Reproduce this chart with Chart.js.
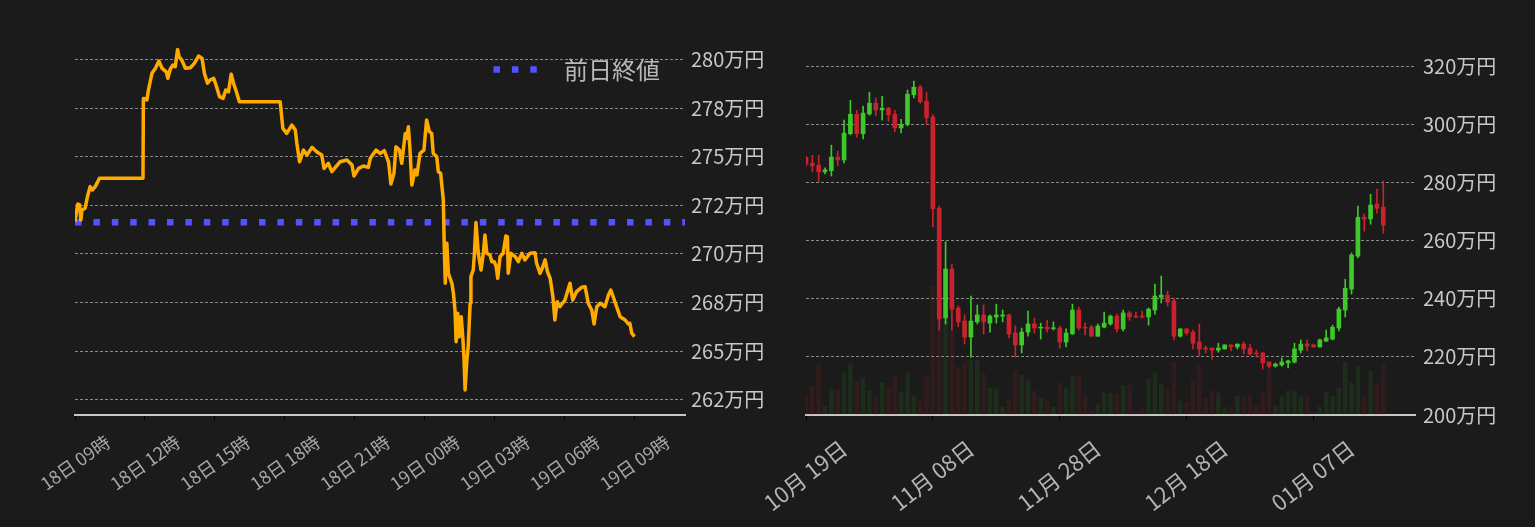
<!DOCTYPE html>
<html><head><meta charset="utf-8">
<script src="https://cdn.jsdelivr.net/npm/chart.js@4.4.1/dist/chart.umd.min.js"></script>
<style>
html,body{margin:0;padding:0;background:#1b1b1b;}
#wrap{position:relative;width:1535px;height:527px;overflow:hidden;}
canvas{position:absolute;top:0;}
#c1{left:0;}
#c2{left:740px;}
</style></head><body>
<div id="wrap"><canvas id="c1" width="770" height="527"></canvas><canvas id="c2" width="795" height="527"></canvas></div>
<script>
// ---------- intraday (left) ----------
const intradayMinutes = [0,7,12,15,18,26,32,39,45,52,63,175,176,185,189,198,207,216,224,235,239,245,252,258,264,268,275,284,297,307,318,327,333,341,348,357,363,372,381,388,395,402,408,414,423,528,535,545,558,567,571,578,588,597,610,622,635,641,652,661,682,700,713,718,730,742,755,760,775,785,796,807,813,821,826,835,841,850,854,858,862,867,875,880,888,898,905,912,918,922,931,935,941,948,950,953,957,961,970,974,978,981,985,989,994,998,1001,1004,1008,1012,1017,1019,1025,1028,1032,1038,1045,1051,1055,1060,1068,1073,1079,1084,1088,1094,1102,1109,1113,1115,1122,1133,1141,1150,1158,1171,1184,1188,1197,1204,1210,1216,1223,1230,1235,1241,1248,1261,1274,1281,1291,1304,1313,1321,1330,1336,1343,1352,1364,1373,1379,1385,1394,1403,1416,1424,1428,1433,1440];
const intradayPrices = [271.66,272.57,272.52,271.74,272.26,272.35,272.94,273.46,273.29,273.46,273.89,273.89,278.00,277.92,278.43,279.29,279.55,279.92,279.55,279.37,279.03,279.50,279.72,279.63,280.52,280.14,279.97,279.55,279.58,279.80,280.18,280.06,279.29,278.78,278.95,279.03,278.69,278.09,278.00,278.43,278.34,279.25,278.78,278.43,277.83,277.83,276.46,276.20,276.63,276.37,275.69,274.74,275.34,275.09,275.48,275.26,275.09,274.40,274.66,274.23,274.74,274.83,274.57,274.01,274.40,274.52,274.45,274.92,275.34,275.17,275.31,274.74,273.60,274.15,275.51,275.34,274.66,276.20,275.95,276.54,275.43,273.54,274.32,274.06,275.17,275.34,276.89,276.29,276.20,275.17,275.00,274.23,274.15,272.77,270.72,268.49,270.55,269.00,268.49,267.97,267.11,265.48,266.94,265.74,266.77,265.74,264.71,263.00,264.37,265.23,267.46,268.83,269.17,270.03,271.61,270.03,269.17,270.03,270.97,270.03,269.94,269.60,269.60,269.34,268.74,269.86,270.03,270.92,270.88,269.00,270.03,269.86,269.60,270.03,269.69,270.03,270.06,269.52,269.00,269.34,269.69,269.08,268.74,267.80,266.60,267.54,267.28,267.63,268.49,267.63,268.06,268.28,268.31,267.46,267.11,266.39,267.28,267.46,267.28,267.89,268.14,267.80,267.28,266.77,266.60,266.39,266.43,265.92,265.74];
const prevClose = 271.63;
const prevCloseLabel = '前日終値';
const intradayTickMinutes = [0,180,360,540,720,900,1080,1260,1440];
const intradayTickLabels = ['18日 09時','18日 12時','18日 15時','18日 18時','18日 21時','19日 00時','19日 03時','19日 06時','19日 09時'];
const intradayPriceTicks = [262.5,265,267.5,270,272.5,275,277.5,280];
const intradayPriceLabels = ['262万円','265万円','268万円','270万円','272万円','275万円','278万円','280万円'];

// ---------- daily candles (right) ----------
const dailyOpen = [288.6,286.6,285.9,283.6,284.0,288.7,287.7,296.7,303.4,296.7,303.5,307.2,304.9,305.5,303.4,298.7,299.9,310.1,312.7,307.9,302.4,271.1,233.4,250.2,236.8,232.3,226.8,232.0,234.4,231.6,233.7,234.0,234.4,228.2,224.1,228.5,231.3,229.9,230.2,229.7,229.9,225.1,227.9,236.1,230.2,230.2,227.1,230.2,231.3,234.0,229.6,235.1,234.0,234.0,233.7,236.1,240.5,241.2,239.2,227.1,229.6,228.5,225.1,223.0,223.0,222.3,222.7,224.1,223.4,224.4,223.0,221.3,221.3,218.2,216.8,217.2,217.9,218.2,222.3,224.4,224.1,223.4,225.4,226.1,229.9,236.1,243.3,254.6,268.0,267.4,272.5,271.5];
const dailyHigh = [289.0,289.3,289.3,285.0,292.8,290.7,301.4,308.2,304.8,306.2,311.0,309.0,309.6,305.8,304.8,301.7,311.7,314.8,313.4,311.0,303.3,271.8,259.6,251.9,237.5,234.4,240.9,237.8,237.8,234.4,238.1,236.1,234.7,230.6,229.9,235.7,233.3,231.6,232.6,232.0,230.6,229.6,238.1,237.1,231.6,230.9,231.3,235.4,234.4,234.7,236.1,235.7,235.4,235.7,236.8,245.0,247.8,242.6,240.2,229.7,229.7,229.2,231.3,223.7,223.1,224.7,224.1,224.1,224.4,225.1,224.4,222.3,221.6,218.2,217.9,219.6,218.9,224.7,225.8,225.8,224.4,226.1,229.2,230.9,237.1,246.7,255.7,271.8,269.1,275.9,277.7,280.4];
const dailyLow = [285.6,283.6,280.2,282.9,282.2,285.7,286.7,296.3,295.5,294.9,303.1,302.9,301.4,301.0,297.4,297.0,299.4,309.0,307.2,299.9,264.7,229.2,231.3,229.2,230.3,224.4,219.9,231.3,227.8,228.5,231.6,232.0,226.5,219.9,221.3,227.1,228.2,226.1,228.5,229.2,223.0,223.4,227.7,229.2,227.5,227.0,227.0,229.9,230.9,228.5,228.9,232.6,233.5,233.3,230.9,234.7,238.5,237.5,225.8,226.8,227.5,222.7,220.3,221.3,219.2,221.6,222.7,222.0,222.7,221.0,220.6,219.9,215.8,216.2,216.5,216.8,216.2,217.9,221.3,222.0,223.3,223.3,225.3,225.8,228.9,233.7,241.6,254.0,263.2,265.6,269.4,262.5];
const dailyClose = [286.3,285.7,283.6,284.3,288.7,287.7,296.9,303.4,296.7,303.8,307.2,304.9,305.5,303.2,298.7,299.9,310.3,312.7,307.7,302.2,270.9,233.0,250.2,236.4,232.0,226.8,232.3,234.4,232.0,234.0,234.4,234.4,227.8,224.1,228.5,231.3,229.9,230.2,229.6,230.0,225.1,228.2,236.1,229.9,229.9,227.1,230.6,231.6,234.0,229.6,235.1,233.7,233.7,233.7,236.4,240.9,241.2,238.8,227.1,229.6,228.2,224.7,222.7,222.7,222.3,223.0,224.1,223.4,224.4,222.7,221.0,221.0,217.9,216.8,217.5,218.2,218.6,222.7,224.4,223.7,223.4,225.8,226.5,230.2,236.4,243.6,255.0,268.0,267.4,272.2,271.1,265.3];
const dailyVolume = [19,29,51,9,26,25,42,51,34,37,24,18,32,28,39,23,42,19,14,40,129,100,100,85,48,52,55,54,41,27,26,8,16,45,40,34,24,17,14,8,32,27,38,39,20,5,10,22,22,21,29,30,3,6,36,42,31,25,53,14,13,35,49,17,24,22,7,8,19,19,20,10,22,47,9,18,24,23,18,20,3,8,23,19,27,52,32,49,18,44,32,52];
const dailyTickDays = [0,20,40,60,80];
const dailyTickLabels = ['10月 19日','11月 08日','11月 28日','12月 18日','01月 07日'];
const dailyPriceTicks = [200,220,240,260,280,300,320];
const dailyPriceLabels = ['200万円','220万円','240万円','260万円','280万円','300万円','320万円'];

Chart.defaults.font.family = '"Noto Sans CJK JP", "Noto Sans", sans-serif';
Chart.defaults.animation = false;

const GRID = '#8a8a8a';
const AXIS = '#c8c8c8';

const innerLegend = {
  id: 'innerLegend',
  afterDatasetsDraw(chart) {
    const ds = chart.data.datasets[1];
    const a = chart.chartArea, ctx = chart.ctx;
    ctx.save();
    ctx.font = '24px "Noto Sans CJK JP"';
    const tw = ctx.measureText(ds.label).width;
    const textLeft = a.right - 25 - tw;
    const y = a.top + 25.5;
    ctx.fillStyle = '#b8b8b8';
    ctx.textBaseline = 'middle';
    ctx.textAlign = 'left';
    ctx.fillText(ds.label, textLeft, y);
    ctx.strokeStyle = ds.borderColor;
    ctx.lineWidth = ds.borderWidth;
    ctx.lineCap = 'butt';
    ctx.setLineDash(ds.borderDash);
    ctx.beginPath();
    ctx.moveTo(textLeft - 70.5, y);
    ctx.lineTo(textLeft - 26.5, y);
    ctx.stroke();
    ctx.restore();
  }
};

const fitX = s => { s.height = 112; s.paddingLeft = 0; s.paddingRight = 0; };

new Chart(document.getElementById('c1'), {
  type: 'line',
  data: {
    datasets: [
      { label: '価格', data: intradayMinutes.map((m, i) => ({ x: m, y: intradayPrices[i] })),
        borderColor: '#ffaa00', borderWidth: 3.5, pointRadius: 0, tension: 0, borderJoinStyle: 'round' },
      { label: prevCloseLabel, data: [{ x: 0, y: prevClose }, { x: 1570, y: prevClose }],
        borderColor: '#5252ff', borderWidth: 6.5, borderDash: [6.5, 11.9], borderCapStyle: 'butt',
        pointRadius: 0, pointStyle: 'line' }
    ]
  },
  options: {
    responsive: false, devicePixelRatio: 1,
    layout: { padding: { left: 75, top: 44, right: 5, bottom: 0 } },
    plugins: { legend: { display: false }, tooltip: { enabled: false } },
    scales: {
      x: {
        type: 'linear', min: 0, max: 1570,
        afterBuildTicks: ax => { ax.ticks = intradayTickMinutes.map(v => ({ value: v })); },
        afterFit: fitX,
        ticks: { autoSkip: false, callback: (v, i) => intradayTickLabels[i], color: '#a8a8a8',
          font: { size: 18 }, minRotation: 35, maxRotation: 35, labelOffset: 33, padding: 11 },
        grid: { display: true, drawOnChartArea: false, drawTicks: true, tickLength: 5, tickColor: '#000', tickWidth: 1 },
        border: { display: true, color: AXIS, width: 2 }
      },
      y: {
        position: 'right', min: 261.71, max: 280.8,
        afterBuildTicks: ax => { ax.ticks = intradayPriceTicks.map(v => ({ value: v })); },
        afterFit: s => { s.width = 80; },
        ticks: { autoSkip: false, callback: (v, i) => intradayPriceLabels[i], color: AXIS, font: { size: 20 }, padding: 6 },
        grid: { color: GRID, drawTicks: false, lineWidth: 1 },
        border: { display: false, dash: [3, 2] }
      }
    }
  },
  plugins: [innerLegend]
});

const UP = '#3ec82a', DOWN = '#c8232c';
const UPV = 'rgba(62,200,42,0.10)', DOWNV = 'rgba(200,35,44,0.13)';
const candleColors = dailyOpen.map((o, i) => dailyClose[i] >= o ? UP : DOWN);
const volColors = dailyOpen.map((o, i) => dailyClose[i] >= o ? UPV : DOWNV);

new Chart(document.getElementById('c2'), {
  type: 'bar',
  data: {
    datasets: [
      { label: 'body', data: dailyOpen.map((o, i) => ({ x: i, y: [o, dailyClose[i]] })),
        backgroundColor: candleColors, barThickness: 4, grouped: false, yAxisID: 'y' },
      { label: 'wick', data: dailyLow.map((l, i) => ({ x: i, y: [l, dailyHigh[i]] })),
        backgroundColor: candleColors, barThickness: 1, grouped: false, yAxisID: 'y' },
      { label: 'volume', data: dailyVolume.map((v, i) => ({ x: i, y: v })),
        backgroundColor: volColors, barThickness: 4, grouped: false, yAxisID: 'vol' }
    ]
  },
  options: {
    responsive: false, devicePixelRatio: 1,
    layout: { padding: { left: 66, top: 66, right: 40, bottom: 0 } },
    plugins: { legend: { display: false }, tooltip: { enabled: false } },
    scales: {
      x: {
        type: 'linear', min: 0, max: 96, offset: false,
        afterBuildTicks: ax => { ax.ticks = dailyTickDays.map(v => ({ value: v })); },
        afterFit: fitX,
        ticks: { autoSkip: false, callback: (v, i) => dailyTickLabels[i], color: '#b4b4b4',
          font: { size: 22 }, minRotation: 38, maxRotation: 38, labelOffset: 38, padding: 15 },
        grid: { display: true, offset: false, drawOnChartArea: false, drawTicks: true, tickLength: 5, tickColor: '#000', tickWidth: 1 },
        border: { display: true, color: AXIS, width: 2 }
      },
      y: {
        position: 'right', min: 200, max: 320,
        afterBuildTicks: ax => { ax.ticks = dailyPriceTicks.map(v => ({ value: v })); },
        afterFit: s => { s.width = 80; },
        ticks: { autoSkip: false, callback: (v, i) => dailyPriceLabels[i], color: AXIS, font: { size: 20 }, padding: 8 },
        grid: { color: GRID, drawTicks: false, lineWidth: 1 },
        border: { display: false, dash: [3, 2] }
      },
      vol: { display: false, position: 'left', min: 0, max: 349 }
    }
  }
});
</script>
</body></html>
